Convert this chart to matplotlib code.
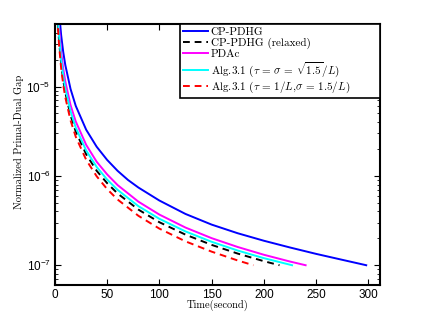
import matplotlib
matplotlib.use("Agg")
import matplotlib.pyplot as plt
from matplotlib.ticker import FixedLocator, LogLocator, NullFormatter, FixedFormatter

plt.rcParams['mathtext.fontset'] = 'cm'

# ---- data ----
t_blue = [4, 6, 8, 10, 15, 20, 30, 40, 50, 60, 70, 80, 100, 125, 150, 175, 200, 225, 250, 275, 298]
y_blue = [7.0e-5, 3.78e-5, 2.44e-5, 1.74e-5, 9.4e-6, 6.07e-6, 3.28e-6, 2.12e-6, 1.51e-6, 1.14e-6,
          9.0e-7, 7.4e-7, 5.3e-7, 3.75e-7, 2.85e-7, 2.28e-7, 1.88e-7, 1.58e-7, 1.34e-7, 1.15e-7, 1.0e-7]

t_black = [3, 4, 6, 8, 10, 15, 20, 30, 40, 50, 60, 80, 100, 125, 150, 175, 200, 215]
y_black = [4.9e-5, 3.23e-5, 1.8e-5, 1.18e-5, 8.55e-6, 4.75e-6, 3.13e-6, 1.74e-6, 1.14e-6, 8.3e-7,
           6.36e-7, 4.19e-7, 3.03e-7, 2.2e-7, 1.69e-7, 1.35e-7, 1.11e-7, 1.0e-7]

t_mag = [3.5, 4, 6, 8, 10, 15, 20, 30, 40, 50, 60, 80, 100, 125, 150, 175, 200, 225, 240]
y_mag = [5.4e-5, 4.5e-5, 2.44e-5, 1.59e-5, 1.14e-5, 6.2e-6, 4.06e-6, 2.22e-6, 1.44e-6, 1.04e-6,
         7.9e-7, 5.14e-7, 3.69e-7, 2.64e-7, 2.01e-7, 1.6e-7, 1.31e-7, 1.1e-7, 1.0e-7]

t_cyan = [3, 4, 6, 8, 10, 15, 20, 30, 40, 50, 60, 80, 100, 125, 150, 175, 200, 227]
y_cyan = [5.5e-5, 3.8e-5, 2.01e-5, 1.32e-5, 9.5e-6, 5.28e-6, 3.47e-6, 1.92e-6, 1.26e-6, 9.1e-7,
          6.98e-7, 4.58e-7, 3.31e-7, 2.39e-7, 1.83e-7, 1.46e-7, 1.2e-7, 1.0e-7]

t_red = [3, 4, 6, 8, 10, 15, 20, 30, 40, 50, 60, 80, 100, 125, 150, 175, 190]
y_red = [4.5e-5, 2.92e-5, 1.61e-5, 1.05e-5, 7.58e-6, 4.18e-6, 2.74e-6, 1.51e-6, 9.9e-7, 7.12e-7,
         5.44e-7, 3.57e-7, 2.57e-7, 1.85e-7, 1.42e-7, 1.13e-7, 1.0e-7]

labels = ["CP-PDHG", "CP-PDHG (relaxed)", "PDAc",
          r"Alg.3.1 ($\tau\,=\,\sigma\,=\,\sqrt{1.5}/L$)",
          r"Alg.3.1 ($\tau\,=\,1/L$,$\sigma\,=\,1.5/L$)"]

x_ticks = [0, 50, 100, 150, 200, 250, 300]
y_ticks = [1e-7, 1e-6, 1e-5]
y_ticklabels = [r"$\mathregular{10^{-7}}$", r"$\mathregular{10^{-6}}$", r"$\mathregular{10^{-5}}$"]

# ---- figure ----
fig = plt.figure(figsize=(4.22, 3.21), dpi=100)
ax = fig.add_axes([0.130, 0.112, 0.770, 0.813])

dash = (0, (3.5, 2.5))
ax.plot(t_blue, y_blue, color='#0000ff', lw=1.4, ls='-', label=labels[0])
ax.plot(t_black, y_black, color='black', lw=1.4, ls=dash, label=labels[1])
ax.plot(t_mag, y_mag, color='#ff00ff', lw=1.4, ls='-', label=labels[2])
ax.plot(t_cyan, y_cyan, color='#00ffff', lw=1.4, ls='-', label=labels[3])
ax.plot(t_red, y_red, color='#ff0000', lw=1.4, ls=dash, label=labels[4])

ax.set_yscale('log')
ax.set_xlim(0, 311)
ax.set_ylim(6e-8, 5e-5)

ax.xaxis.set_major_locator(FixedLocator(x_ticks))
ax.yaxis.set_major_locator(FixedLocator(y_ticks))
ax.yaxis.set_major_formatter(FixedFormatter(y_ticklabels))
ax.yaxis.set_minor_locator(LogLocator(base=10, subs=range(2, 10)))
ax.yaxis.set_minor_formatter(NullFormatter())

ax.tick_params(which='both', direction='in', top=True, right=True)
ax.tick_params(which='major', length=4, width=0.8, labelsize=8.5, pad=3)
ax.tick_params(which='minor', length=2, width=0.6)
for lab in ax.get_xticklabels() + ax.get_yticklabels():
    lab.set_family('Liberation Sans')
for s in ax.spines.values():
    s.set_linewidth(1.5)

ax.set_xlabel("Time(second)", family='cmr10', fontsize=7.5, labelpad=-1)
ax.set_ylabel("Normalized Primal-Dual Gap", family='cmr10', fontsize=7.5)
ax.yaxis.set_label_coords(-0.095, 0.55)

leg = ax.legend(loc='upper right', bbox_to_anchor=(0.385, 0.0, 0.615, 1.0), mode='expand',
                prop={'family': 'cmr10', 'size': 8},
                frameon=True, fancybox=False, borderaxespad=0.0, handlelength=2.25,
                labelspacing=0.05, borderpad=0.3, handletextpad=0.2)
leg.get_frame().set_edgecolor('black')
leg.get_frame().set_linewidth(1.2)
leg.get_frame().set_alpha(1)

fig.savefig('out.png', dpi=100)
